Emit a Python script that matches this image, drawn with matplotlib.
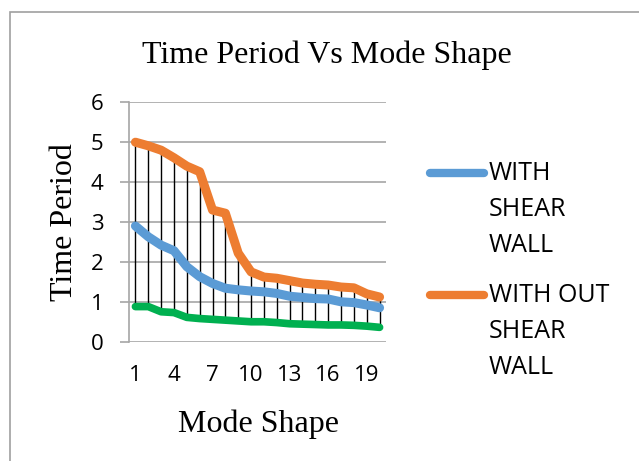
import numpy as np
import matplotlib.pyplot as plt
from matplotlib.lines import Line2D
from matplotlib.patches import Rectangle

# Mode shape numbers
modes = list(range(1, 21))

# Time period values
with_shear_wall = [2.90, 2.63, 2.42, 2.28, 1.88, 1.63, 1.46, 1.34, 1.30, 1.27,
                   1.25, 1.21, 1.14, 1.11, 1.08, 1.07, 1.00, 0.98, 0.92, 0.85]
without_shear_wall = [5.00, 4.91, 4.80, 4.61, 4.40, 4.26, 3.30, 3.22, 2.22, 1.75,
                      1.62, 1.59, 1.53, 1.47, 1.44, 1.42, 1.37, 1.35, 1.20, 1.12]
third_series = [0.88, 0.88, 0.75, 0.73, 0.61, 0.58, 0.56, 0.54, 0.52, 0.50,
                0.50, 0.48, 0.45, 0.44, 0.43, 0.42, 0.42, 0.41, 0.39, 0.36]

legend_labels = ['WITH\nSHEAR\nWALL', 'WITH OUT\nSHEAR\nWALL']
y_ticks = [0, 1, 2, 3, 4, 5, 6]
x_tick_labels = [1, 4, 7, 10, 13, 16, 19]

BLUE = '#5B9BD5'
ORANGE = '#ED7D31'
GREEN = '#00B050'
GRID = '#A6A6A6'
SERIF = ['Liberation Serif', 'DejaVu Serif']
SANS = ['Open Sans', 'DejaVu Sans']
W, H = 639, 461

fig = plt.figure(figsize=(W / 100, H / 100), dpi=100)
ax = fig.add_axes([129 / W, 1 - 341.7 / H, 257 / W, (341.7 - 102.3) / H])

# high-low lines between the highest and lowest series
data = np.array([with_shear_wall, without_shear_wall, third_series])
ax.vlines(modes, data.min(axis=0), data.max(axis=0), color='black', lw=1.0, zorder=2)

for vals, col, lw in [(with_shear_wall, BLUE, 6.5),
                      (without_shear_wall, ORANGE, 6.5),
                      (third_series, GREEN, 5.5)]:
    ax.plot(modes, vals, color=col, lw=lw, solid_capstyle='round',
            solid_joinstyle='round', zorder=3)

ax.set_xlim(0.5, 20.5)
ax.set_ylim(0, 6)
ax.set_yticks(y_ticks)
ax.set_xticks(x_tick_labels)
ax.yaxis.grid(True, color=GRID, lw=1.2)
ax.set_axisbelow(True)
for s in ['top', 'right', 'bottom']:
    ax.spines[s].set_visible(False)
ax.spines['left'].set_color(GRID)
ax.spines['left'].set_linewidth(1.2)
ax.tick_params(axis='y', length=6.5, color=GRID, width=1.2, pad=12)
ax.tick_params(axis='x', length=0, pad=17)
for lbl in ax.get_xticklabels() + ax.get_yticklabels():
    lbl.set_family(SANS)
    lbl.set_fontsize(16)

# title and axis titles
fig.text(327 / W, 1 - 55 / H, 'Time Period Vs Mode Shape', family=SERIF,
         fontsize=23, ha='center', va='center')
fig.text(258 / W, 1 - 424 / H, 'Mode Shape', family=SERIF,
         fontsize=23, ha='center', va='center')
fig.text(65 / W, 1 - 222 / H, 'Time Period', family=SERIF,
         fontsize=23, ha='center', va='center', rotation=90)

# legend drawn by hand so the marker sits on the first text line
for label, color, y0 in zip(legend_labels, [BLUE, ORANGE], [173, 295]):
    fig.add_artist(Line2D([430 / W, 484 / W], [1 - y0 / H] * 2, color=color,
                          lw=6, solid_capstyle='round', transform=fig.transFigure))
    for i, line in enumerate(label.split('\n')):
        fig.text(489 / W, 1 - (y0 + 36 * i) / H, line, family=SANS, fontsize=18,
                 ha='left', va='center')

# chart border (only left and top visible in the crop)
fig.add_artist(Rectangle((10 / W, -0.1), 1.2, 1.1 - 12 / H,
                         transform=fig.transFigure, fill=False,
                         edgecolor='#A0A0A0', lw=1.2))

fig.savefig('out.png', dpi=100)
